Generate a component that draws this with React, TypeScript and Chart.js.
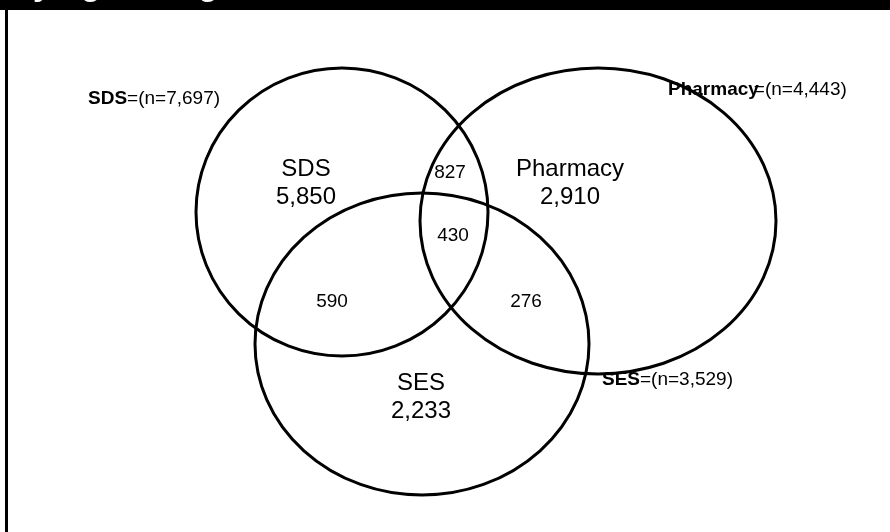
import React, { useEffect, useRef } from "react";
import { Chart, registerables } from "chart.js";

Chart.register(...registerables);

// ---- data ----
const titleText = "Identifying among";
const setNames = ["SDS", "Pharmacy", "SES"];
const setTotals = ["(n=7,697)", "(n=4,443)", "(n=3,529)"];
const onlyCounts = ["5,850", "2,910", "2,233"];
const overlapNames = ["SDS+Pharmacy", "SDS+SES", "Pharmacy+SES", "SDS+Pharmacy+SES"];
const overlapCounts = ["827", "590", "276", "430"];

// ---- layout (data units of a 890x532 frame) ----
const circleCx = [342, 598, 422];
const circleCy = [212, 221, 344];
const circleRx = [146, 178, 167];
const circleRy = [144, 153, 151];
const onlyPosX = [306, 570, 421];
const onlyPosY = [183, 183, 397];
const overlapPosX = [450, 332, 526, 453];
const overlapPosY = [173, 302, 302, 236];
const totalPosX = [88, 668, 602];
const totalPosY = [99, 90, 380];

const vennPlugin = {
  id: "venn",
  afterDraw(chart: any) {
    const ctx: CanvasRenderingContext2D = chart.ctx;
    const xs = chart.scales.x;
    const ys = chart.scales.y;
    const px = (v: number) => xs.getPixelForValue(v);
    const py = (v: number) => ys.getPixelForValue(v);
    const W = chart.width;
    const H = chart.height;
    ctx.save();
    // title bar (title text mostly cropped off above the frame)
    ctx.fillStyle = "#000";
    ctx.fillRect(0, 0, W, 10);
    ctx.save();
    ctx.beginPath();
    ctx.rect(0, 0, W, 10);
    ctx.clip();
    ctx.fillStyle = "#fff";
    ctx.font = "bold 33px Arial, 'Liberation Sans', sans-serif";
    ctx.textBaseline = "alphabetic";
    ctx.textAlign = "left";
    ctx.fillText(titleText, -66, -5);
    ctx.restore();
    // left border
    ctx.fillStyle = "#000";
    ctx.fillRect(5, 10, 3, H - 10);

    // circles
    ctx.strokeStyle = "#000";
    ctx.lineWidth = 3;
    for (let i = 0; i < setNames.length; i++) {
      const cx = px(circleCx[i]);
      const cy = py(circleCy[i]);
      const rx = Math.abs(px(circleCx[i] + circleRx[i]) - cx);
      const ry = Math.abs(py(circleCy[i] + circleRy[i]) - cy);
      ctx.beginPath();
      ctx.ellipse(cx, cy, rx, ry, 0, 0, Math.PI * 2);
      ctx.stroke();
    }

    ctx.fillStyle = "#000";
    ctx.textAlign = "center";
    ctx.textBaseline = "middle";
    // only-set labels
    ctx.font = "24px Arial, 'Liberation Sans', sans-serif";
    for (let i = 0; i < setNames.length; i++) {
      ctx.fillText(setNames[i], px(onlyPosX[i]), py(onlyPosY[i]) - 14);
      ctx.fillText(onlyCounts[i], px(onlyPosX[i]), py(onlyPosY[i]) + 14);
    }
    // overlap labels
    ctx.font = "19px Arial, 'Liberation Sans', sans-serif";
    for (let i = 0; i < overlapCounts.length; i++) {
      ctx.fillText(overlapCounts[i], px(overlapPosX[i]), py(overlapPosY[i]));
    }
    // totals
    ctx.textAlign = "left";
    for (let i = 0; i < setNames.length; i++) {
      const x = px(totalPosX[i]);
      const y = py(totalPosY[i]);
      ctx.font = "bold 19px Arial, 'Liberation Sans', sans-serif";
      ctx.fillText(setNames[i], x, y);
      const w = ctx.measureText(setNames[i]).width;
      ctx.font = "19px Arial, 'Liberation Sans', sans-serif";
      const off = i === 1 ? -5 : 0;
      ctx.fillText("=" + setTotals[i], x + w + off, y);
    }
    ctx.restore();
  },
};

export default function App() {
  const ref = useRef<HTMLCanvasElement>(null);
  useEffect(() => {
    if (!ref.current) return;
    const chart = new Chart(ref.current, {
      type: "scatter",
      data: {
        datasets: [
          {
            label: overlapNames.join(","),
            data: [],
          },
        ],
      },
      options: {
        animation: false,
        responsive: true,
        maintainAspectRatio: false,
        layout: { padding: 0 },
        plugins: {
          legend: { display: false },
          tooltip: { enabled: false },
          title: { display: false },
        },
        scales: {
          x: { type: "linear", min: 0, max: 890, display: false },
          y: { type: "linear", min: 0, max: 532, reverse: true, display: false },
        },
      },
      plugins: [vennPlugin],
    });
    return () => chart.destroy();
  }, []);
  return (
    <div
      style={{
        position: "fixed",
        left: 0,
        top: 0,
        width: 890,
        height: 532,
        background: "#fff",
      }}
    >
      <canvas ref={ref} />
    </div>
  );
}
